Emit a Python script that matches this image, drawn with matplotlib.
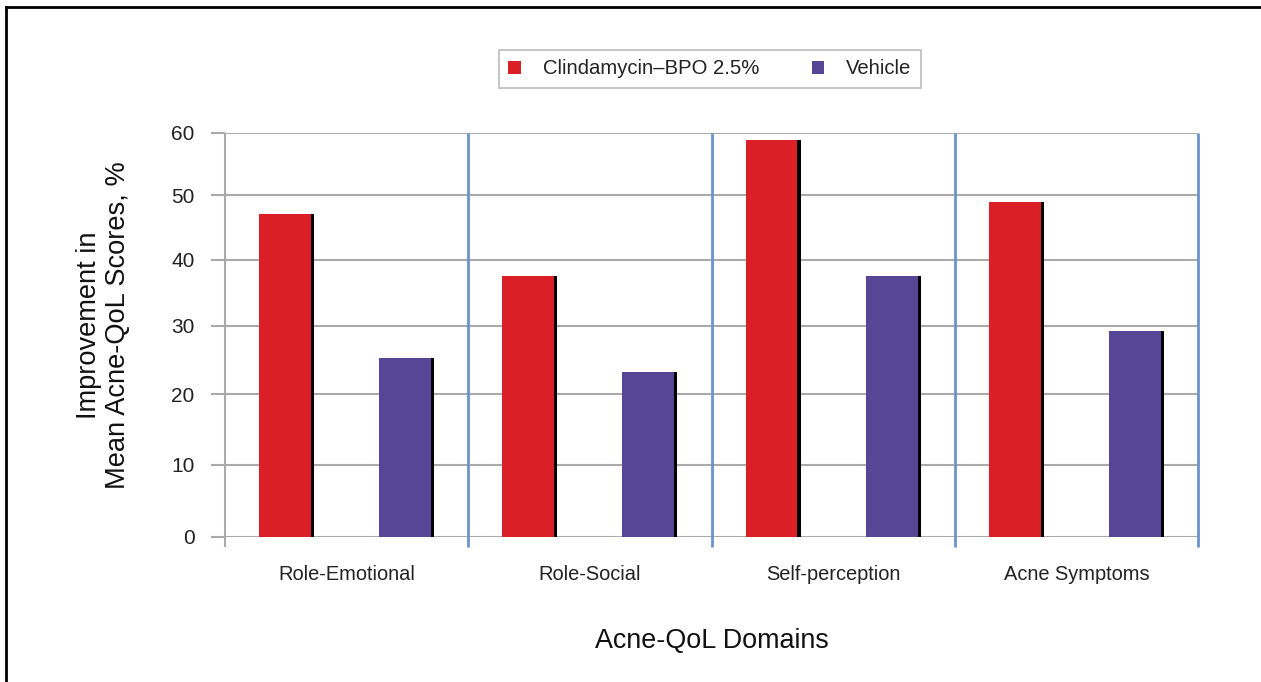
import numpy as np
import matplotlib
matplotlib.use("Agg")
import matplotlib.pyplot as plt
from matplotlib.lines import Line2D
from matplotlib.patches import Patch

categories = ["Role-Emotional", "Role-Social", "Self-perception", "Acne Symptoms"]
clinda_bpo = [47.1, 37.5, 58.9, 49.0]
vehicle = [25.3, 23.3, 37.5, 29.3]
series_names = ["Clindamycin\u2013BPO 2.5%", "Vehicle"]
yticks = [0, 10, 20, 30, 40, 50, 60]

plt.rcParams['font.family'] = ['Liberation Sans', 'DejaVu Sans']

RED = "#db1f27"
PURPLE = "#574595"
BLUE = "#6a93cc"
GRID = "#aaaaaa"
TXT = "#222222"

fig = plt.figure(figsize=(12.61, 6.82), dpi=100)
ax = fig.add_axes([225/1261, 1-537/682, (1198-225)/1261, (537-133)/682])

# slightly compressed vertical scale, as in the reference
K = 733.3
def fwd(v):
    v = np.asarray(v, dtype=float)
    return v - v**2 / K
def inv(g):
    g = np.asarray(g, dtype=float)
    d = np.clip(K**2 - 4*K*g, 0, None)
    return (K - np.sqrt(d)) / 2
ax.set_yscale('function', functions=(fwd, inv))

n = len(categories)
x = np.arange(n) + 0.5
off = 0.247
w = 0.226
sh = 0.013
for vals, col, sgn in [(clinda_bpo, RED, -1), (vehicle, PURPLE, 1)]:
    xc = x + sgn*off
    ax.bar(xc, vals, width=w, color="black", zorder=3, linewidth=0)
    ax.bar(xc - sh/2, vals, width=w - sh, color=col, zorder=4, linewidth=0)

ax.set_xlim(0, n)
ax.set_ylim(0, 60)
ax.set_yticks(yticks)
ax.set_yticklabels([str(t) for t in yticks])
ax.grid(axis='y', color=GRID, linewidth=1.5)
ax.set_axisbelow(True)
for s in ax.spines.values():
    s.set_visible(False)
ax.tick_params(axis='y', length=10, width=1.5, color=GRID, pad=12,
               labelsize=15, labelcolor=TXT)
ax.set_xticks(x)
ax.set_xticklabels(categories)
ax.tick_params(axis='x', length=0, pad=20, labelsize=14.4, labelcolor=TXT)

tr = ax.get_xaxis_transform()
ax.vlines([0], -0.025, 1, transform=tr, colors=GRID, linewidth=1.5, clip_on=False, zorder=2)
ax.vlines(np.arange(1, n+1), -0.025, 1, transform=tr, colors=BLUE, linewidth=2, clip_on=False, zorder=2)

fig.text(712/1261, 1-641/682, "Acne-QoL Domains", ha='center', va='center',
         fontsize=19.4, color='#111111')
fig.text(104/1261, 1-325/682, "Improvement in\nMean Acne-QoL Scores, %", rotation=90,
         ha='center', va='center', fontsize=19.6, color='#111111', linespacing=1.15)

handles = [Patch(facecolor=RED, edgecolor='none'), Patch(facecolor=PURPLE, edgecolor='none')]
leg = fig.legend(handles, series_names, loc='center', bbox_to_anchor=(710/1261, 1-69/682),
                 ncol=2, frameon=True, fancybox=False, fontsize=14.6, handlelength=0.6,
                 handleheight=0.6, handletextpad=1.1, columnspacing=2.6,
                 borderpad=0.45, labelcolor=TXT)
leg.get_frame().set_edgecolor(GRID)
leg.get_frame().set_linewidth(1.2)

fig.add_artist(Line2D([6/1261, 6/1261], [0, 1-7/682], color='black', linewidth=2, transform=fig.transFigure))
fig.add_artist(Line2D([6/1261, 1], [1-7/682, 1-7/682], color='black', linewidth=2, transform=fig.transFigure))

fig.savefig("out.png", dpi=100)
